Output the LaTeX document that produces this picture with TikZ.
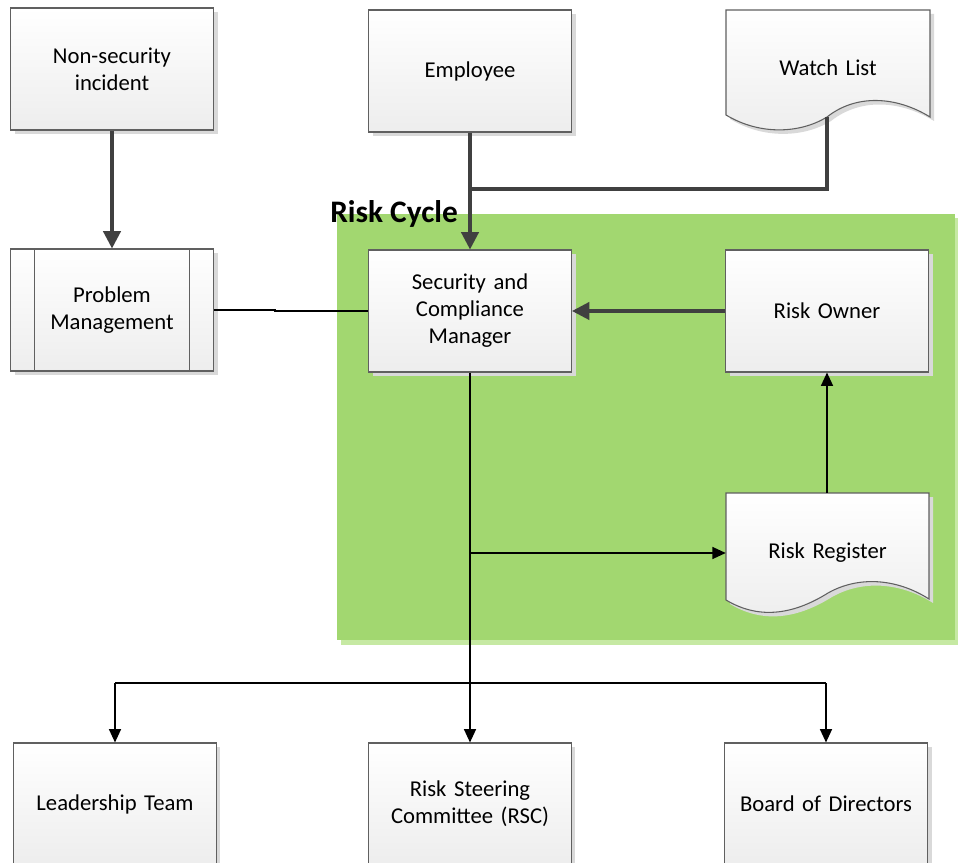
\documentclass[tikz,border=0pt]{standalone}
\usepackage{fontspec}
\setmainfont{Carlito}
\usetikzlibrary{arrows.meta,calc}
\definecolor{cyclegreen}{RGB}{162,215,112}
\definecolor{cycleshadow}{RGB}{198,233,163}
\definecolor{linegray}{RGB}{64,64,64}
\definecolor{boxedge}{RGB}{96,96,96}
\tikzset{
  procbox/.style={rectangle, draw=boxedge, line width=0.8pt, top color=white, bottom color=black!7,
    minimum width=152.25pt, minimum height=91.5pt, inner sep=0pt, align=center,
    font=\fontsize{17}{20.25}\selectfont, text width=145pt},
  docbox/.style={rectangle, draw=none, minimum width=152.25pt, minimum height=91.5pt, inner sep=0pt,
    align=center, font=\fontsize{17}{20.25}\selectfont, text width=145pt},
  thickarrow/.style={draw=linegray, line width=2.4pt, -{Triangle[length=13pt,width=13pt]}},
  thickline/.style={draw=linegray, line width=2.4pt},
  thinarrow/.style={draw=black, line width=1pt, -{Triangle[length=10pt,width=9pt]}},
  thinline/.style={draw=black, line width=1pt},
}
\begin{document}
\begin{tikzpicture}[x=0.75pt,y=-0.75pt]
\clip (0,0) rectangle (958,863);
\fill[white] (0,0) rectangle (958,863);
% risk cycle area
\fill[cycleshadow] (341,218) rectangle (958,645);
\fill[cyclegreen] (337,214) rectangle (955,640);
\node[anchor=west, font=\fontsize{23.5}{26}\selectfont\bfseries, inner sep=0pt] (rc) at (330,214) {Risk Cycle};

% shadows
\foreach \x/\y in {11/8,369/10,11/249,369/250,726/250,13/743,368/743,725/743}
  \fill[black!15] (\x+4,\y+4) rectangle (\x+207,\y+126);

% boxes
\node[procbox] (nsi) at (112,69) {Non-security\\incident};
\node[procbox] (emp) at (470,71) {Employee};
\node[procbox] (pm) at (112,310) {Problem\\Management};
\draw[boxedge, line width=0.8pt] ($(pm.north west)+(24.5,0)$) -- ($(pm.south west)+(24.5,0)$);
\draw[boxedge, line width=0.8pt] ($(pm.north east)+(-24.5,0)$) -- ($(pm.south east)+(-24.5,0)$);
\node[procbox] (scm) at (470,311) {Security and\\Compliance\\Manager};
\node[procbox] (ro) at (827,311) {Risk Owner};
\node[procbox] (lt) at (115,804) {Leadership Team};
\node[procbox] (rsc) at (470,804) {Risk Steering\\Committee (RSC)};
\node[procbox] (bod) at (826,804) {Board of Directors};

% document shapes
\fill[black!15] (730,14) -- (934,14) -- (934,121) .. controls (900,100) and (860,98) .. (831,121) .. controls (805,137) and (765,140) .. (730,119) -- cycle;
\shade[top color=white, bottom color=black!7, draw=boxedge, line width=0.8pt]
  (726,10) -- (930,10) -- (930,117) .. controls (896,96) and (856,94) .. (827,117) .. controls (801,133) and (761,136) .. (726,115) -- cycle;
\node[docbox] (wl) at (828,68) {Watch List};
\coordinate (wlb) at (827,117);

\fill[black!15] (730,497) -- (933,497) -- (933,603) .. controls (900,582) and (862,580) .. (832,597) .. controls (800,617) and (765,625) .. (730,604) -- cycle;
\shade[top color=white, bottom color=black!7, draw=boxedge, line width=0.8pt]
  (726,493) -- (929,493) -- (929,599) .. controls (896,578) and (858,576) .. (828,593) .. controls (796,613) and (761,621) .. (726,600) -- cycle;
\node[docbox] (rr) at (827.5,553) {Risk Register};
\coordinate (rrtop) at (827,493);

% connectors
\draw[thickarrow] (nsi.south) -- (pm.north);
\draw[thickarrow] (emp.south) -- (scm.north);
\coordinate (wj) at (470,189);
\draw[thickline] (wlb) |- (wj);
\draw[thickarrow] (ro.west) -- (scm.east);
\draw[thinline] (pm.east) -- ++(61,0) |- (scm.west);
\draw[thinarrow] (rrtop) -- (ro.south);

\coordinate (sb) at (470,683);
\coordinate (rb) at (470,553);
\draw[thinline] (scm.south) -- (sb);
\draw[thinarrow] (rb) -- (rr.west);
\coordinate (lb) at (115,683);
\coordinate (bb) at (826,683);
\draw[thinline] (lb) -- (bb);
\draw[thinarrow] (lb) -- (lt.north);
\draw[thinarrow] (sb) -- (rsc.north);
\draw[thinarrow] (bb) -- (bod.north);
\end{tikzpicture}
\end{document}
